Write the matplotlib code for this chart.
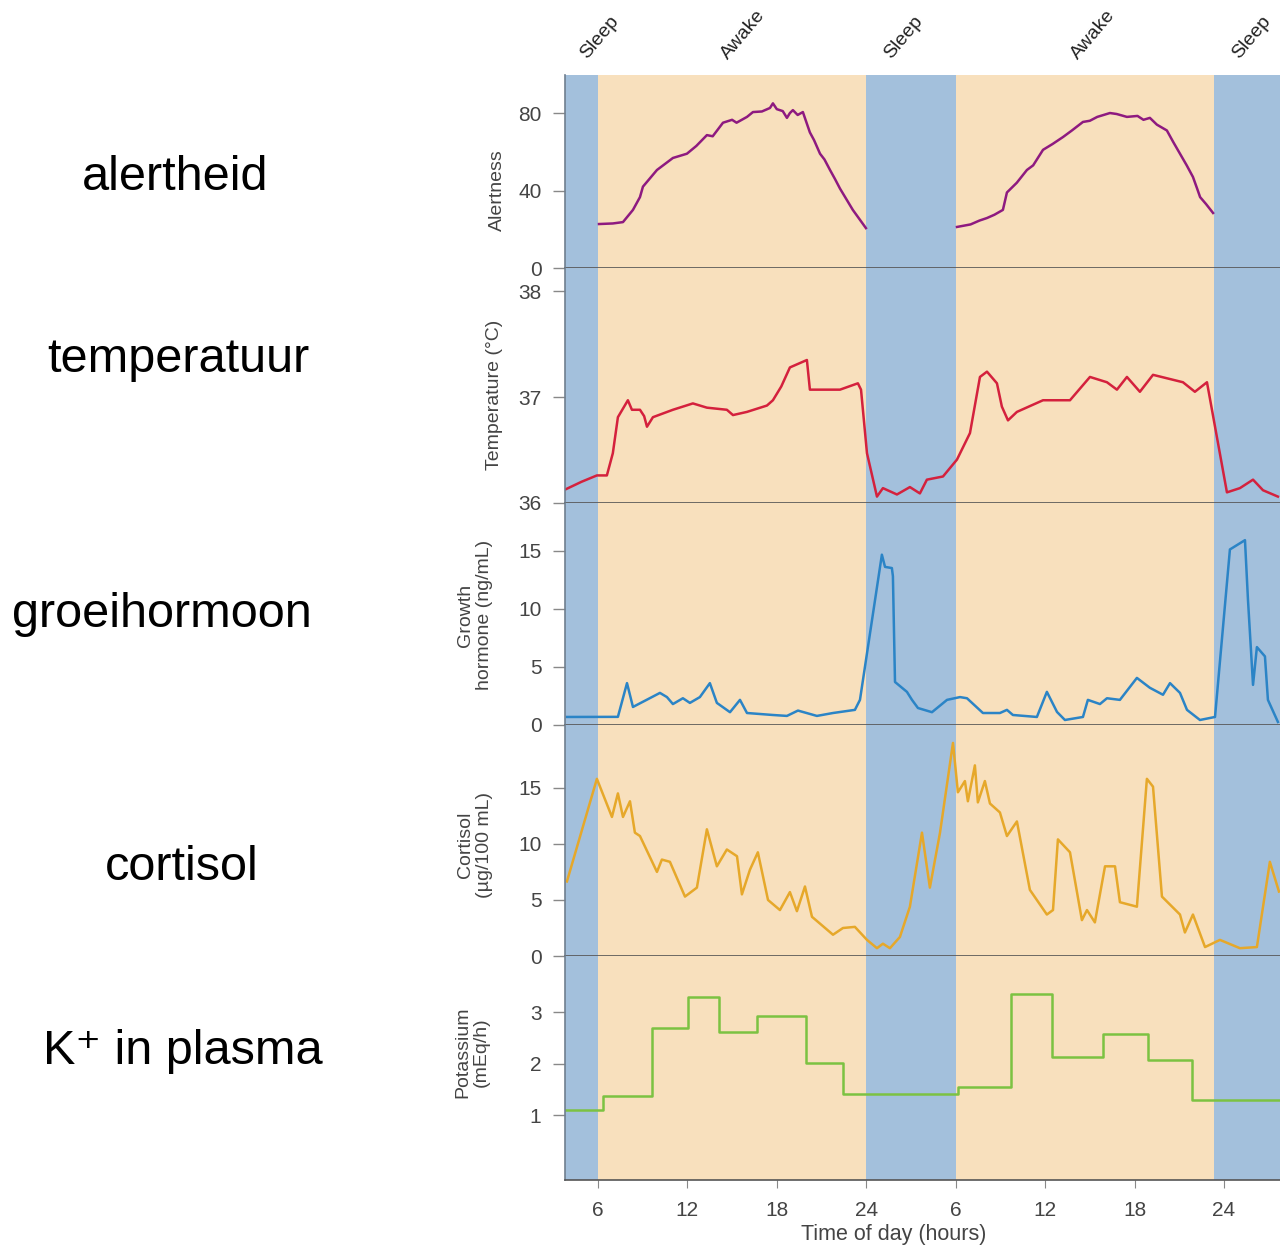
import matplotlib
matplotlib.use("Agg")
import matplotlib.pyplot as plt
from matplotlib.transforms import blended_transform_factory

plt.rcParams["font.family"] = ["Liberation Sans", "DejaVu Sans"]

# time axis in hours, counted from midnight of day 1
alert_t1 = [6.07, 7.0, 7.68, 8.35, 8.82, 9.02, 9.96, 11.03, 11.97, 12.6, 13.31, 13.7,
            14.39, 15.0, 15.3, 16.0, 16.4, 17.0, 17.54, 17.74, 18.0, 18.4, 18.68, 18.88,
            19.08, 19.4, 19.75, 20.22, 20.5, 20.9, 21.2, 21.57, 21.9, 22.24, 23.1, 23.98]
alert_v1 = [22.7, 23.0, 23.7, 30, 36.6, 42, 50.6, 56.8, 59, 63, 68.6, 68,
            75, 76.5, 75, 78, 80.5, 80.8, 82.6, 85, 82, 81, 77.5, 80,
            81.5, 79, 80.5, 70, 66, 59, 56, 50.6, 46, 41, 30, 20.6]
alert_t2 = [30.09, 31.0, 31.6, 32.1, 32.6, 33.17, 33.44, 34.1, 34.78, 35.2, 35.86, 36.5,
            37.2, 37.8, 38.54, 39.0, 39.5, 40.35, 40.8, 41.49, 42.2, 42.6, 43.03, 43.5,
            44.17, 44.6, 45.05, 45.5, 45.92, 46.2, 46.4, 46.8, 47.27]
alert_v2 = [21.2, 22.5, 24.5, 25.8, 27.5, 30, 39, 44, 50.6, 53, 61, 64,
            67.6, 71, 75.4, 76, 78, 80, 79.5, 78, 78.5, 76.5, 77.5, 74,
            71, 65, 59, 53, 47, 41, 36.6, 33, 28.4]

temp_t = [3.85, 4.9, 5.93, 6.6, 7.0, 7.34, 8.01, 8.28, 8.82, 9.1, 9.29, 9.69, 11.03,
          12.37, 13.31, 14.65, 15.06, 16.0, 17.34, 17.74, 18.3, 18.88, 20.02, 20.22,
          22.24, 23.44, 23.65, 24.05, 24.72, 25.12, 26.06, 26.93, 27.6, 28.07, 29.15,
          30.09, 30.96, 31.63, 32.1, 32.77, 33.1, 33.51, 34.11, 35.86, 36.8, 37.67,
          38.34, 39.01, 40.15, 40.82, 41.49, 42.36, 43.24, 45.25, 46.05, 46.86, 48.2,
          49.07, 49.95, 50.62, 51.62]
temp_v = [36.13, 36.2, 36.26, 36.26, 36.47, 36.81, 36.97, 36.88, 36.88, 36.82, 36.72,
          36.81, 36.88, 36.94, 36.9, 36.88, 36.83, 36.86, 36.92, 36.97, 37.1, 37.28,
          37.35, 37.07, 37.07, 37.13, 37.07, 36.47, 36.06, 36.14, 36.08, 36.15, 36.09,
          36.22, 36.25, 36.41, 36.66, 37.19, 37.24, 37.13, 36.91, 36.78, 36.86, 36.97,
          36.97, 36.97, 37.08, 37.19, 37.14, 37.07, 37.19, 37.05, 37.21, 37.14, 37.05,
          37.14, 36.1, 36.14, 36.22, 36.12, 36.06]

gh_t = [3.92, 7.34, 7.95, 8.35, 10.16, 10.63, 11.03, 11.7, 12.17, 12.84, 13.51, 13.98,
        14.86, 15.53, 16.0, 17.74, 18.68, 19.42, 20.69, 21.77, 23.24, 23.58, 25.05,
        25.26, 25.72, 25.79, 25.93, 26.73, 27.07, 27.47, 28.41, 29.42, 30.29, 30.76,
        31.83, 32.97, 33.44, 33.84, 35.45, 36.12, 36.8, 37.33, 38.54, 38.87, 39.68,
        40.15, 41.02, 42.16, 43.03, 43.91, 44.38, 45.05, 45.52, 46.39, 47.4, 48.4,
        49.41, 49.61, 49.95, 50.21, 50.75, 50.95, 51.62]
gh_v = [0.69, 0.7, 3.6, 1.55, 2.76, 2.4, 1.8, 2.3, 1.9, 2.4, 3.6, 1.9, 1.1, 2.16, 1.03,
        0.86, 0.78, 1.24, 0.78, 1.03, 1.3, 2.16, 14.65, 13.6, 13.5, 12.8, 3.7, 2.85,
        2.16, 1.46, 1.1, 2.16, 2.4, 2.3, 1.03, 1.03, 1.3, 0.86, 0.69, 2.85, 1.12, 0.43,
        0.69, 2.16, 1.8, 2.3, 2.16, 4.05, 3.2, 2.6, 3.6, 2.76, 1.3, 0.43, 0.69, 15.1,
        15.9, 10.8, 3.45, 6.7, 5.9, 2.16, 0.26]

cort_t = [3.92, 5.93, 6.94, 7.34, 7.68, 8.15, 8.48, 8.82, 9.96, 10.29, 10.83, 11.84,
          12.64, 13.31, 13.98, 14.65, 15.33, 15.66, 16.2, 16.73, 17.41, 18.21, 18.88,
          19.35, 19.89, 20.36, 21.77, 22.44, 23.24, 24.05, 24.72, 25.12, 25.59, 26.26,
          26.93, 27.74, 28.27, 28.95, 29.82, 30.15, 30.62, 30.82, 31.29, 31.49, 31.96,
          32.3, 32.97, 33.44, 34.11, 34.98, 36.12, 36.53, 36.86, 37.67, 38.47, 38.81,
          39.34, 40.02, 40.69, 41.02, 42.16, 42.83, 43.24, 43.84, 45.05, 45.38, 45.92,
          46.73, 47.73, 49.07, 50.21, 51.08, 51.69]
cort_v = [6.65, 15.8, 12.4, 14.5, 12.4, 13.8, 11.0, 10.7, 7.5, 8.6, 8.4, 5.3, 6.1, 11.3,
          8.0, 9.5, 8.9, 5.5, 7.7, 9.25, 5.0, 4.1, 5.7, 4.0, 6.2, 3.5, 1.9, 2.5, 2.6,
          1.44, 0.7, 1.1, 0.7, 1.7, 4.4, 11.0, 6.1, 11.0, 19.0, 14.6, 15.6, 13.8, 17.0,
          13.7, 15.6, 13.6, 12.8, 10.7, 12.0, 5.9, 3.7, 4.1, 10.4, 9.25, 3.2, 4.1, 3.0,
          8.0, 8.0, 4.8, 4.4, 15.8, 15.1, 5.3, 3.7, 2.1, 3.7, 0.8, 1.44, 0.7, 0.8, 8.4,
          5.75]

k_t = [3.79, 6.34, 9.62, 12.04, 14.1, 16.67, 19.95, 22.44, 30.15, 33.7, 36.46, 39.88,
       42.9, 45.85, 51.76]
k_v = [1.1, 1.37, 2.7, 3.3, 2.62, 2.92, 2.02, 1.4, 1.55, 3.36, 2.12, 2.58, 2.07, 1.3, 1.3]

x_range = (3.79, 51.76)
sleep_spans = [(3.79, 6.0), (24.0, 30.0), (47.33, 51.76)]
state_labels = ["Sleep", "Awake", "Sleep", "Awake", "Sleep"]
state_x = [5.5, 14.9, 25.9, 38.4, 49.25]

hour_ticks = [6, 12, 18, 24, 30, 36, 42, 48]
hour_labels = ["6", "12", "18", "24", "6", "12", "18", "24"]

dutch = ["alertheid", "temperatuur", "groeihormoon", "cortisol", "K\u207a in plasma"]

fig = plt.figure(figsize=(12.8, 12.53), dpi=100)

blue = "#a3c0dc"
peach = "#f8e0bd"
tick_col = "#444444"

# [bottom, height] of each panel in figure fractions
boxes = [(0.7861, 0.1540), (0.5986, 0.1876), (0.4214, 0.1772), (0.2370, 0.1844), (0.0583, 0.1788)]
ylims = [(0, 99.6), (36, 38.22), (0, 19.1), (0, 20.6), (-0.26, 4.09)]
yticks = [[0, 40, 80], [36, 37, 38], [0, 5, 10, 15], [0, 5, 10, 15], [1, 2, 3]]
ylabels = ["Alertness", "Temperature (\u00b0C)", "Growth\nhormone (ng/mL)",
           "Cortisol\n(\u00b5g/100 mL)", "Potassium\n(mEq/h)"]
ylabel_pos = [(-0.095, 0.404), (-0.098, 0.46), (-0.126, 0.495), (-0.126, 0.48), (-0.130, 0.571)]
dutch_y = [178, 360, 615, 868, 1052]
dutch_x = [175, 178, 162, 182, 183]

axes = []
for i, (b, h) in enumerate(boxes):
    ax = fig.add_axes([0.4414, b, 0.5586, h])
    ax.set_facecolor(peach)
    for s0, s1 in sleep_spans:
        ax.axvspan(s0, s1, color=blue, lw=0, zorder=0)
    ax.set_xlim(*x_range)
    ax.set_ylim(*ylims[i])
    ax.set_yticks(yticks[i])
    ax.spines["top"].set_visible(False)
    ax.spines["right"].set_visible(False)
    ax.spines["bottom"].set_color("#555555")
    ax.spines["bottom"].set_linewidth(1.2)
    ax.spines["left"].set_color("#6f7f8f")
    ax.spines["left"].set_linewidth(1.2)
    ax.tick_params(axis="y", length=9, width=1, color="#888888", labelsize=15,
                   labelcolor=tick_col, pad=8)
    ax.text(*ylabel_pos[i], ylabels[i], transform=ax.transAxes, rotation=90,
            ha="center", va="center", fontsize=14, color=tick_col, linespacing=1.1)
    if i < 4:
        ax.tick_params(axis="x", bottom=False, labelbottom=False)
    fig.text(dutch_x[i] / 1280, 1 - dutch_y[i] / 1253, dutch[i], ha="center",
             va="center", fontsize=35, color="black")
    axes.append(ax)

ax_a, ax_t, ax_g, ax_c, ax_k = axes
lw = 1.8
ax_a.plot(alert_t1, alert_v1, color="#8e1a80", lw=lw)
ax_a.plot(alert_t2, alert_v2, color="#8e1a80", lw=lw)
ax_t.plot(temp_t, temp_v, color="#d4213d", lw=lw)
ax_g.plot(gh_t, gh_v, color="#2b84c6", lw=lw)
ax_c.plot(cort_t, cort_v, color="#e6a82a", lw=lw)
ax_k.step(k_t, k_v, where="post", color="#7cc242", lw=lw)

ax_k.set_xticks(hour_ticks)
ax_k.set_xticklabels(hour_labels)
ax_k.tick_params(axis="x", length=6, color="#888888", labelsize=15, labelcolor=tick_col, pad=9)
ax_k.set_xlabel("Time of day (hours)", fontsize=15.5, color=tick_col, labelpad=3, x=0.46)

trans = blended_transform_factory(ax_a.transData, ax_a.transAxes)
for lab, x in zip(state_labels, state_x):
    ax_a.text(x, 1.067, lab, transform=trans, rotation=50, rotation_mode="anchor",
              ha="left", va="bottom", fontsize=14, color="#222222")

fig.savefig("out.png", dpi=100)
